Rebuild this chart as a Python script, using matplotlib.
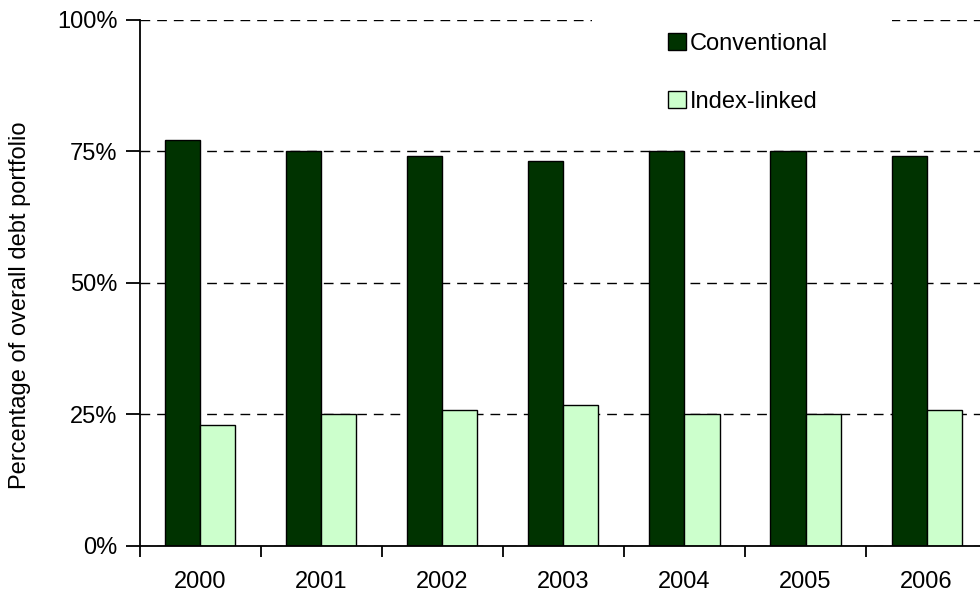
import matplotlib.pyplot as plt
from matplotlib.patches import Rectangle
from matplotlib.ticker import FuncFormatter
import numpy as np

plt.rcParams['font.family'] = ['Liberation Sans', 'DejaVu Sans']

# data
years = ['2000', '2001', '2002', '2003', '2004', '2005', '2006']
conventional = [77.1, 75.0, 74.2, 73.1, 75.0, 75.0, 74.2]
index_linked = [22.9, 25.0, 25.8, 26.7, 25.0, 25.0, 25.8]

W, H = 980, 591
FS = 17
fig = plt.figure(figsize=(W / 100, H / 100), dpi=100)

# axes run past the right edge of the picture, as in the original
left, right, top, bottom = 139.5, 987.2, 20.0, 545.7
ax = fig.add_axes([left / W, (H - bottom) / H, (right - left) / W, (bottom - top) / H])

x = np.arange(len(years))
bw = 0.29
ax.bar(x - bw / 2, conventional, bw, color='#003300', edgecolor='black', linewidth=1, label='Conventional', zorder=2)
ax.bar(x + bw / 2, index_linked, bw, color='#ccffcc', edgecolor='black', linewidth=1, label='Index-linked', zorder=2)

ax.set_xlim(-0.5, len(years) - 0.5)
ax.set_ylim(0, 100)

# gridlines
ax.set_axisbelow(True)
ax.set_yticks([0, 25, 50, 75, 100])
ax.yaxis.set_major_formatter(FuncFormatter(lambda v, p: f'{v:.0f}%'))
ax.grid(axis='y', color='black', linestyle=(0, (7, 5)), linewidth=1)

# white block behind the legend hides the top gridline there
ax.add_patch(Rectangle((3.24, 95), 5.71 - 3.24, 8, facecolor='white', edgecolor='none', zorder=1, clip_on=False))

# x ticks: labels at centres, tick marks at category boundaries
ax.set_xticks(x)
ax.set_xticklabels(years)
ax.set_xticks(np.arange(-0.5, len(years)), minor=True)
ax.tick_params(axis='x', which='major', length=0, pad=18, labelsize=FS)
ax.tick_params(axis='x', which='minor', length=8, width=1.3, direction='out')
ax.tick_params(axis='y', length=10, width=1.3, direction='out', pad=6, labelsize=FS)

for s in ['top', 'right']:
    ax.spines[s].set_visible(False)
for s in ['left', 'bottom']:
    ax.spines[s].set_linewidth(1.3)

fig.text(20 / W, 1 - 305 / H, 'Percentage of overall debt portfolio', fontsize=FS,
         rotation=90, ha='center', va='center')

leg = ax.legend(loc='upper left', bbox_to_anchor=(668 / W, 1 - 33 / H), bbox_transform=fig.transFigure,
                frameon=False, fontsize=FS, handlelength=0.76, handleheight=0.76,
                handletextpad=0.17, labelspacing=1.52, borderpad=0, borderaxespad=0)

fig.savefig('out.png', dpi=100)
